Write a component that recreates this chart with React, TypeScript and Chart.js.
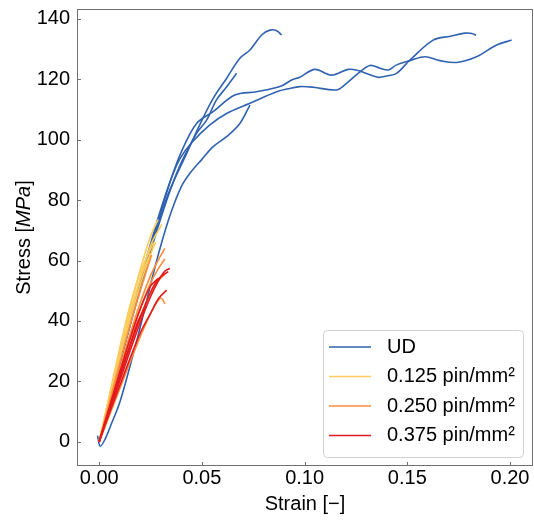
import React, { useEffect, useRef } from "react";
import { Chart, registerables } from "chart.js";

Chart.register(...registerables);

type Pt = [number, number];

// ---- UD specimens (strain, stress MPa)
const UD_1: Pt[] = [
  [0, 0], [0.005, 13], [0.01, 26], [0.015, 38.5], [0.02, 50.5], [0.0263, 66.8], [0.03, 75],
  [0.0344, 83.4], [0.0426, 95.5], [0.049, 105], [0.0555, 113.7], [0.062, 120.3], [0.0685, 127],
  [0.0734, 129.7], [0.0791, 134.7], [0.0831, 136.3], [0.0864, 136.1], [0.0888, 134.7],
];
const UD_2: Pt[] = [
  [0, 0], [0.005, 13.5], [0.01, 27], [0.015, 40.5], [0.02, 53.5], [0.025, 65.5], [0.03, 77],
  [0.035, 87], [0.0394, 93.8], [0.045, 99], [0.0539, 104.9], [0.062, 108.7],
  [0.0734, 112.1], [0.0864, 115.9], [0.0928, 117.0], [0.0977, 117.6], [0.1042, 117.4],
  [0.1156, 116.5], [0.1204, 118.7], [0.1261, 122], [0.1318, 124.6], [0.1367, 123.7],
  [0.1407, 123.1], [0.1448, 124.8], [0.1513, 126.2], [0.1586, 127.5], [0.1659, 126.2],
  [0.174, 125.6], [0.1837, 127.5], [0.1935, 131.4], [0.2008, 133],
];
const UD_3: Pt[] = [
  [0, 0], [0.005, 13.5], [0.01, 27], [0.015, 40], [0.02, 52.5], [0.025, 64.5], [0.03, 76],
  [0.035, 87], [0.04, 96], [0.0474, 105.4], [0.0555, 109.3], [0.066, 114.8], [0.0766, 115.9],
  [0.088, 117.6], [0.0937, 119.8], [0.0977, 120.7], [0.105, 123.3], [0.1131, 121.4],
  [0.1212, 123.3], [0.1261, 122.9], [0.1358, 120.7], [0.1399, 121.1], [0.1448, 122.0],
  [0.1513, 126.4], [0.1626, 133.0], [0.171, 134.3], [0.178, 135.3], [0.1815, 135.2], [0.1835, 134.6],
];
const UD_4: Pt[] = [
  [0, 0], [0.005, 12.5], [0.01, 25.5], [0.015, 38.5], [0.02, 51], [0.025, 63], [0.03, 74],
  [0.035, 84], [0.04, 92.5], [0.0474, 102.1], [0.0523, 106.5], [0.0571, 113.2], [0.062, 117.5],
  [0.0669, 122],
];
const UD_5: Pt[] = [
  [-0.0008, 2], [0.0005, -1.5], [0.003, 1], [0.006, 6], [0.01, 13], [0.015, 25], [0.02, 38],
  [0.025, 52], [0.03, 65], [0.035, 76], [0.04, 84.5], [0.0442, 88.9], [0.05, 93.5],
  [0.0555, 97.7], [0.062, 101], [0.0685, 105.4], [0.0734, 111.5],
];

// ---- 0.125 pin/mm²
const P125_1: Pt[] = [[0, 0], [0.005, 15], [0.01, 30], [0.015, 44], [0.02, 57], [0.025, 68], [0.0287, 73.6]];
const P125_2: Pt[] = [[0, 0], [0.005, 14], [0.01, 28], [0.015, 41.5], [0.02, 54], [0.025, 65], [0.0305, 72]];
const P125_3: Pt[] = [[0, 0], [0.005, 15.5], [0.01, 31], [0.015, 45], [0.02, 56], [0.0265, 66]];
const P125_4: Pt[] = [[0, 0], [0.005, 14.5], [0.01, 29], [0.015, 42.5], [0.02, 54], [0.025, 62.5]];
const P125_5: Pt[] = [[0, 0], [0.005, 13.5], [0.01, 27], [0.015, 40], [0.02, 52], [0.025, 62], [0.0275, 66]];

// ---- 0.250 pin/mm²
const P250_1: Pt[] = [[0, 0], [0.005, 12], [0.01, 24], [0.015, 35.5], [0.02, 46], [0.025, 55], [0.029, 60.5], [0.032, 64]];
const P250_2: Pt[] = [[0, 0], [0.005, 11.5], [0.01, 23], [0.015, 34], [0.02, 44], [0.025, 52.5], [0.029, 57.5], [0.032, 60.5]];
const P250_3: Pt[] = [[0, 0], [0.005, 11], [0.01, 22], [0.015, 32], [0.02, 41.5], [0.025, 49], [0.029, 53.5], [0.032, 55.4]];
const P250_4: Pt[] = [[0, 0], [0.006, 10.5], [0.012, 21], [0.018, 31.5], [0.023, 39.5], [0.027, 45], [0.0296, 47.5], [0.031, 47], [0.032, 45.6]];
const P250_5: Pt[] = [[0, 0], [0.005, 13], [0.01, 26], [0.015, 38.5], [0.02, 50], [0.0255, 61.8]];

// ---- 0.375 pin/mm²
const P375_1: Pt[] = [[0, 0], [0.005, 10], [0.01, 20], [0.015, 30], [0.02, 39.5], [0.025, 48], [0.029, 53.5], [0.032, 56.5], [0.0344, 57.4]];
const P375_2: Pt[] = [[0, 0], [0.005, 10.5], [0.01, 21], [0.015, 31.5], [0.02, 41], [0.025, 49.5], [0.029, 54], [0.0336, 56.3]];
const P375_3: Pt[] = [[0, 0], [0.005, 9.5], [0.01, 18.5], [0.015, 27.5], [0.02, 36], [0.025, 42.5], [0.029, 47.5], [0.0328, 50.2]];
const P375_4: Pt[] = [[0, 0], [0.005, 11], [0.01, 22], [0.015, 32], [0.019, 40], [0.0222, 44.2]];
const P375_5: Pt[] = [[0, 0], [0.005, 11.5], [0.01, 23], [0.015, 34], [0.02, 44], [0.025, 51.5], [0.0288, 54.1]];

const GROUP_LABELS = ["UD", "0.125 pin/mm²", "0.250 pin/mm²", "0.375 pin/mm²"];
const GROUP_COLORS = ["#2f62b0", "#fecc5c", "#fd8d3c", "#e31a1c"];
const GROUPS: Pt[][][] = [
  [UD_1, UD_2, UD_3, UD_4, UD_5],
  [P125_1, P125_2, P125_3, P125_4, P125_5],
  [P250_1, P250_2, P250_3, P250_4, P250_5],
  [P375_1, P375_2, P375_3, P375_4, P375_5],
];

const X_TICKS = [0, 0.05, 0.1, 0.15, 0.2];
const Y_TICKS = [0, 20, 40, 60, 80, 100, 120, 140];
const X_MIN = -0.0108;
const X_MAX = 0.2112;
const Y_MIN = -8.05;
const Y_MAX = 143.3;

const FONT = "'Liberation Sans', Arial, Helvetica, sans-serif";
const AXIS_COLOR = "#707070";

const decorPlugin = {
  id: "decor",
  afterDatasetsDraw(chart: any) {
    const { ctx, chartArea: a, scales } = chart;
    ctx.save();
    ctx.strokeStyle = AXIS_COLOR;
    ctx.lineWidth = 1;
    ctx.beginPath();
    Y_TICKS.forEach((v) => {
      const y = Math.round(scales.y.getPixelForValue(v)) + 0.5;
      ctx.moveTo(a.left, y);
      ctx.lineTo(a.left + 4, y);
    });
    X_TICKS.forEach((v) => {
      const x = Math.round(scales.x.getPixelForValue(v)) + 0.5;
      ctx.moveTo(x, a.bottom);
      ctx.lineTo(x, a.bottom - 4);
    });
    ctx.stroke();
    ctx.strokeRect(a.left + 0.5, a.top + 0.5, a.right - a.left - 1, a.bottom - a.top - 1);
    ctx.restore();
  },
  afterDraw(chart: any) {
    const { ctx, chartArea: a } = chart;
    ctx.save();
    ctx.fillStyle = "#000";
    ctx.font = `20px ${FONT}`;
    ctx.textAlign = "center";
    ctx.textBaseline = "alphabetic";
    ctx.fillText("Strain [\u2212]", (a.left + a.right) / 2, 509.5);
    const parts: [string, string][] = [
      ["Stress [", `20px ${FONT}`],
      ["MPa", `italic 20px ${FONT}`],
      ["]", `20px ${FONT}`],
    ];
    let total = 0;
    parts.forEach(([t, f]) => {
      ctx.font = f;
      total += ctx.measureText(t).width;
    });
    ctx.translate(29.5, (a.top + a.bottom) / 2);
    ctx.rotate(-Math.PI / 2);
    ctx.textAlign = "left";
    let x = -total / 2;
    parts.forEach(([t, f]) => {
      ctx.font = f;
      ctx.fillText(t, x, 0);
      x += ctx.measureText(t).width;
    });
    ctx.restore();

    ctx.save();
    const bx = 323.5, by = 330.5, bw = 200, bh = 127;
    ctx.beginPath();
    ctx.roundRect(bx, by, bw, bh, 4);
    ctx.fillStyle = "rgba(255,255,255,0.85)";
    ctx.fill();
    ctx.strokeStyle = "#d2d2d2";
    ctx.lineWidth = 1;
    ctx.stroke();
    const rows = [347, 376.5, 406, 435.5];
    ctx.font = `20px ${FONT}`;
    ctx.textAlign = "left";
    ctx.textBaseline = "middle";
    GROUP_LABELS.forEach((lab, i) => {
      ctx.strokeStyle = GROUP_COLORS[i];
      ctx.lineWidth = 1.6;
      ctx.beginPath();
      ctx.moveTo(329, rows[i]);
      ctx.lineTo(371, rows[i]);
      ctx.stroke();
      ctx.fillStyle = "#000";
      ctx.fillText(lab, 387, rows[i]);
    });
    ctx.restore();
  },
};

export default function App() {
  const ref = useRef<HTMLCanvasElement | null>(null);
  useEffect(() => {
    if (!ref.current) return;
    const datasets: any[] = [];
    GROUPS.forEach((curves, gi) => {
      curves.forEach((c, ci) => {
        datasets.push({
          label: `${GROUP_LABELS[gi]} #${ci + 1}`,
          data: c.map(([x, y]) => ({ x, y })),
          showLine: true,
          borderColor: GROUP_COLORS[gi],
          backgroundColor: GROUP_COLORS[gi],
          borderWidth: 1.6,
          pointRadius: 0,
          pointHoverRadius: 0,
          tension: 0.35,
          fill: false,
          order: 4 - gi,
        });
      });
    });
    const chart = new Chart(ref.current, {
      type: "scatter",
      data: { datasets },
      plugins: [decorPlugin],
      options: {
        animation: false,
        responsive: false,
        devicePixelRatio: 1,
        layout: { padding: { left: 0, top: 9, right: 1, bottom: 0 } },
        plugins: { legend: { display: false }, tooltip: { enabled: false } },
        scales: {
          x: {
            type: "linear",
            min: X_MIN,
            max: X_MAX,
            grid: { display: false, drawTicks: false },
            border: { display: false },
            afterBuildTicks: (s: any) => {
              s.ticks = X_TICKS.map((v) => ({ value: v }));
            },
            afterFit: (s: any) => {
              s.height = 54;
              s.paddingLeft = 0;
              s.paddingRight = 0;
            },
            ticks: {
              padding: 0,
              color: "#000",
              maxRotation: 0,
              autoSkip: false,
              font: { family: FONT, size: 20 },
              callback: (v: any) => Number(v).toFixed(2),
            },
          },
          y: {
            type: "linear",
            min: Y_MIN,
            max: Y_MAX,
            grid: { display: false, drawTicks: false },
            border: { display: false },
            afterBuildTicks: (s: any) => {
              s.ticks = Y_TICKS.map((v) => ({ value: v }));
            },
            afterFit: (s: any) => {
              s.width = 77;
              s.paddingTop = 0;
              s.paddingBottom = 0;
            },
            ticks: {
              padding: 7,
              color: "#000",
              autoSkip: false,
              font: { family: FONT, size: 20 },
              callback: (v: any) => String(Math.round(Number(v))),
            },
          },
        },
      },
    });
    return () => chart.destroy();
  }, []);
  return (
    <div style={{ position: "absolute", left: 0, top: 0, width: 534, height: 520, background: "#fff" }}>
      <canvas ref={ref} width={534} height={520} style={{ display: "block", width: 534, height: 520 }} />
    </div>
  );
}
